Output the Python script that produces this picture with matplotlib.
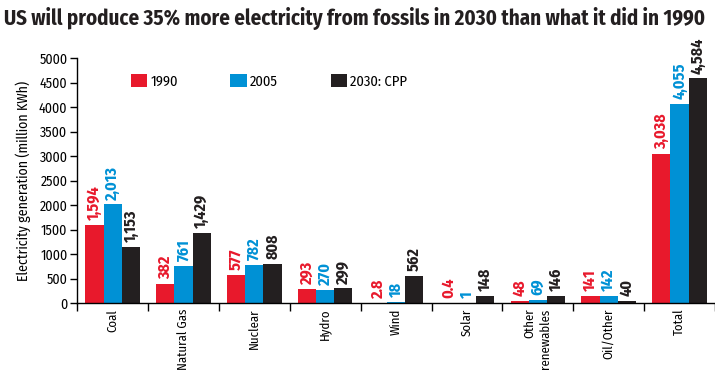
import numpy as np
import matplotlib.pyplot as plt
from matplotlib.ticker import FixedLocator, NullFormatter

categories = ["Coal", "Natural Gas", "Nuclear", "Hydro", "Wind", "Solar",
              "Other\nrenewables", "Oil/Other", "Total"]
v1990 = [1594, 382, 577, 293, 2.8, 0.4, 48, 141, 3038]
v2005 = [2013, 761, 782, 270, 18, 1, 69, 142, 4055]
v2030 = [1153, 1429, 808, 299, 562, 148, 146, 40, 4584]
lab1990 = ["1,594", "382", "577", "293", "2.8", "0.4", "48", "141", "3,038"]
lab2005 = ["2,013", "761", "782", "270", "18", "1", "69", "142", "4,055"]
lab2030 = ["1,153", "1,429", "808", "299", "562", "148", "146", "40", "4,584"]
series = [("1990", v1990, lab1990, "#e8192c"),
          ("2005", v2005, lab2005, "#0091d5"),
          ("2030: CPP", v2030, lab2030, "#231f20")]

plt.rcParams["font.family"] = ["Fira Sans Condensed", "Roboto Condensed", "DejaVu Sans"]

fig = plt.figure(figsize=(7.15, 3.77), dpi=100)
ax = fig.add_axes([0.108, 0.196, 0.892, 0.650])

x = np.arange(len(categories))
w = 0.256
for i, (name, vals, labs, col) in enumerate(series):
    xs = x + (i - 1) * w
    ax.bar(xs, vals, width=w, color=col, label=name)
    for xi, v, t in zip(xs, vals, labs):
        ax.text(xi, v + 100, t, rotation=90, ha="center", va="bottom",
                color=col, fontsize=11.5, fontweight="bold")

ax.set_xlim(-0.5, len(categories) - 0.5)
ax.set_ylim(0, 5000)
ax.set_yticks(range(0, 5001, 500))
ax.set_xticks(x)
ax.set_xticklabels(categories, rotation=90, fontsize=9.2, linespacing=1.35,
                   multialignment="right")
ax.xaxis.set_minor_locator(FixedLocator(np.arange(-0.5, len(categories), 1.0)))
ax.xaxis.set_minor_formatter(NullFormatter())
ax.tick_params(axis="x", which="major", length=0, pad=4)
ax.tick_params(axis="x", which="minor", length=6, width=1, direction="out")
ax.tick_params(axis="y", length=5, width=1, labelsize=10, pad=2)
for s in ["top", "right"]:
    ax.spines[s].set_visible(False)
ax.spines["left"].set_linewidth(1)
ax.spines["bottom"].set_linewidth(1)
ax.set_ylabel("Electricity generation (million KWh)", fontsize=10, labelpad=6)

ax.legend(loc="center left", bbox_to_anchor=(0.084, 0.905), ncol=3, frameon=False,
          fontsize=10.5, handlelength=1.1, handleheight=0.95, columnspacing=3.6,
          handletextpad=0.25, borderaxespad=0, borderpad=0)

fig.text(0.006, 0.952, "US will produce 35% more electricity from fossils in 2030 than what it did in 1990",
         fontsize=15, fontweight="bold", ha="left", va="center", color="#231f20")

fig.savefig("out.png", dpi=100)
